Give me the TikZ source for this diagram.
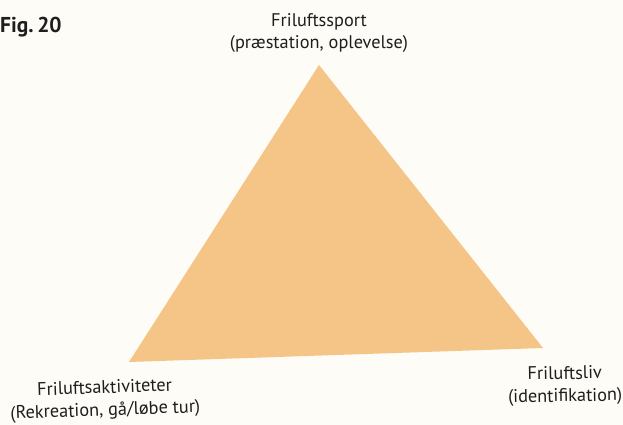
\documentclass[tikz,border=0pt]{standalone}
\usepackage{fontspec}
\setmainfont{PT Sans}
\definecolor{paper}{HTML}{FDFCF6}
\definecolor{tri}{HTML}{F5C487}
\definecolor{ink}{HTML}{1E1E1E}
\begin{document}
\begin{tikzpicture}[x=1pt,y=-1pt,
  lbl/.style={inner sep=0pt,align=center,text=ink,font=\fontsize{18.3}{22.5}\selectfont}]
\fill[paper] (0,0) rectangle (623,425);
\useasboundingbox (0,0) rectangle (623,425);
\coordinate (top) at (319,65);
\coordinate (bl) at (129,362);
\coordinate (br) at (543,348);
\fill[tri] (top) -- (br) -- (bl) -- cycle;
\node[lbl,anchor=west,font=\bfseries\fontsize{21.5}{24}\selectfont] (fig) at (0,27) {Fig.\,20};
\node[lbl] (sport) at (319,33) {Friluftssport\\(præstation, oplevelse)};
\node[lbl,rotate=2] (akt) at (105,400) {Friluftsaktiviteter\\(Rekreation, gå/løbe tur)};
\node[lbl,rotate=1] (liv) at (565,386) {Friluftsliv\\(identifikation)};
\end{tikzpicture}
\end{document}
